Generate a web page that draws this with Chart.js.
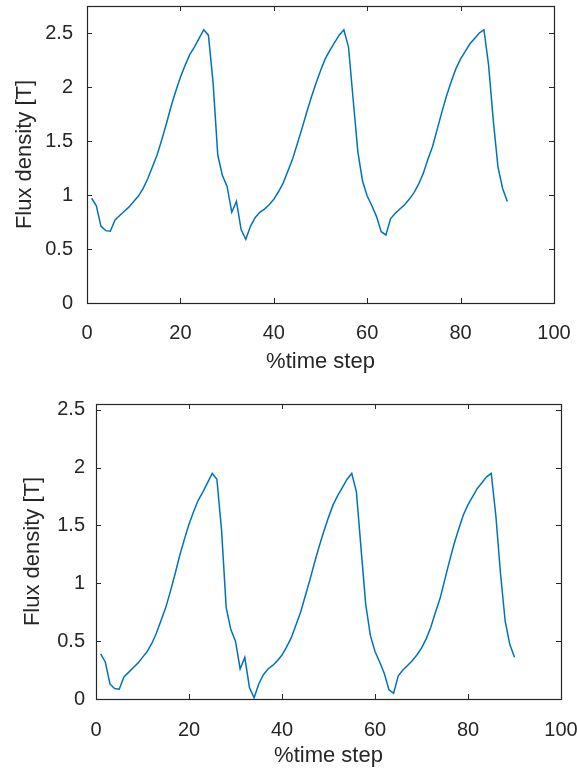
<!DOCTYPE html>
<html>
<head>
<meta charset="utf-8">
<script src="https://cdn.jsdelivr.net/npm/chart.js@4/dist/chart.umd.min.js"></script>
<style>
  html, body { margin: 0; padding: 0; background: #fff; }
  #wrap { position: relative; width: 577px; height: 771px; }
  canvas { position: absolute; left: 0; }
</style>
</head>
<body>
<div id="wrap">
  <canvas id="c1" width="577" height="385" style="top:0px"></canvas>
  <canvas id="c2" width="577" height="386" style="top:385px"></canvas>
</div>
<script>
// ---- data ----
const timeSteps = [];
for (let i = 1; i <= 90; i++) timeSteps.push(i);

const fluxTop = [
  0.97, 0.90, 0.71, 0.67, 0.665, 0.77, 0.81, 0.85, 0.89, 0.94,
  0.99, 1.06, 1.15, 1.26, 1.37, 1.51, 1.66, 1.82, 1.96, 2.09,
  2.20, 2.30, 2.37, 2.45, 2.53, 2.48, 2.04, 1.37, 1.18, 1.08,
  0.84, 0.94, 0.68, 0.59, 0.71, 0.79, 0.84, 0.87, 0.91, 0.96,
  1.03, 1.11, 1.22, 1.33, 1.47, 1.61, 1.76, 1.90, 2.03, 2.15,
  2.26, 2.34, 2.41, 2.48, 2.53, 2.37, 1.88, 1.40, 1.13, 0.99,
  0.90, 0.80, 0.66, 0.63, 0.78, 0.83, 0.87, 0.91, 0.96, 1.02,
  1.10, 1.20, 1.33, 1.45, 1.61, 1.77, 1.92, 2.05, 2.17, 2.26,
  2.33, 2.40, 2.45, 2.50, 2.53, 2.20, 1.69, 1.26, 1.06, 0.94
];

const fluxBottom = [
  0.39, 0.32, 0.13, 0.09, 0.085, 0.19, 0.23, 0.27, 0.31, 0.36,
  0.41, 0.48, 0.57, 0.68, 0.79, 0.93, 1.08, 1.24, 1.38, 1.51,
  1.62, 1.72, 1.79, 1.87, 1.95, 1.90, 1.46, 0.79, 0.60, 0.50,
  0.26, 0.36, 0.10, 0.01, 0.13, 0.21, 0.26, 0.29, 0.33, 0.38,
  0.45, 0.53, 0.64, 0.75, 0.89, 1.03, 1.18, 1.32, 1.45, 1.57,
  1.68, 1.76, 1.83, 1.90, 1.95, 1.79, 1.30, 0.82, 0.55, 0.41,
  0.32, 0.22, 0.08, 0.05, 0.20, 0.25, 0.29, 0.33, 0.38, 0.44,
  0.52, 0.62, 0.75, 0.87, 1.03, 1.19, 1.34, 1.47, 1.59, 1.68,
  1.75, 1.82, 1.87, 1.92, 1.95, 1.58, 1.08, 0.67, 0.47, 0.36
];

const xTicks = [0, 20, 40, 60, 80, 100];
const xTickLabels = ['0', '20', '40', '60', '80', '100'];
const yTicks = [0, 0.5, 1, 1.5, 2, 2.5];
const yTickLabels = ['0', '0.5', '1', '1.5', '2', '2.5'];
const xTitle = '%time step';
const yTitle = 'Flux density [T]';

// ---- styling ----
const AX = '#262626';
const LINE = '#0072BD';
const FONT = '"Liberation Sans", Arial, sans-serif';

const boxPlugin = {
  id: 'matlabBox',
  afterDatasetsDraw(chart) {
    const {ctx, chartArea: a, scales} = chart;
    ctx.save();
    ctx.strokeStyle = AX;
    ctx.lineWidth = 1;
    const tl = 5;
    ctx.beginPath();
    scales.x.ticks.forEach(t => {
      const px = Math.round(scales.x.getPixelForValue(t.value)) + 0.5;
      ctx.moveTo(px, a.bottom); ctx.lineTo(px, a.bottom - tl);
      ctx.moveTo(px, a.top); ctx.lineTo(px, a.top + tl);
    });
    scales.y.ticks.forEach(t => {
      const py = Math.round(scales.y.getPixelForValue(t.value)) + 0.5;
      ctx.moveTo(a.left, py); ctx.lineTo(a.left + tl, py);
      ctx.moveTo(a.right, py); ctx.lineTo(a.right - tl, py);
    });
    ctx.stroke();
    ctx.lineWidth = 1.2;
    ctx.strokeRect(Math.round(a.left) + 0.5, Math.round(a.top) + 0.5,
                   Math.round(a.right - a.left), Math.round(a.bottom - a.top));
    ctx.restore();
  }
};

function makeChart(id, values, cfg) {
  const points = timeSteps.map((x, i) => ({x: x, y: values[i]}));
  return new Chart(document.getElementById(id), {
    type: 'line',
    data: {
      datasets: [{
        data: points,
        borderColor: LINE,
        borderWidth: 1.5,
        pointRadius: 0,
        tension: 0,
        fill: false
      }]
    },
    options: {
      responsive: false,
      animation: false,
      devicePixelRatio: 1,
      layout: { padding: { left: 0, top: cfg.top, right: cfg.right, bottom: 0 } },
      plugins: { legend: { display: false }, tooltip: { enabled: false } },
      scales: {
        x: {
          type: 'linear',
          min: 0, max: 100,
          grid: { display: false, drawTicks: false },
          border: { display: false },
          afterBuildTicks: s => { s.ticks = xTicks.map(v => ({value: v})); },
          afterFit: s => { s.height = cfg.xh; s.paddingLeft = 0; s.paddingRight = 0; },
          ticks: {
            color: AX,
            padding: cfg.xpad,
            maxRotation: 0,
            font: { family: FONT, size: 20 },
            callback: (v) => xTickLabels[xTicks.indexOf(v)]
          },
          title: {
            display: true, text: xTitle, color: AX,
            font: { family: FONT, size: 22 },
            padding: { top: 0, bottom: cfg.xtpad }
          }
        },
        y: {
          type: 'linear',
          min: 0, max: cfg.ymax,
          grid: { display: false, drawTicks: false },
          border: { display: false },
          afterBuildTicks: s => { s.ticks = yTicks.map(v => ({value: v})); },
          afterFit: s => { s.width = cfg.yw; s.paddingTop = 0; s.paddingBottom = 0; },
          ticks: {
            color: AX,
            padding: cfg.ypad,
            font: { family: FONT, size: 20 },
            callback: (v) => yTickLabels[yTicks.indexOf(v)]
          },
          title: {
            display: true, text: yTitle, color: AX,
            font: { family: FONT, size: 22 },
            padding: { top: cfg.ytpad, bottom: 0 }
          }
        }
      }
    },
    plugins: [boxPlugin]
  });
}

makeChart('c1', fluxTop, {
  top: 6, right: 23, xh: 82, yw: 87, ymax: 2.75,
  xpad: 18, xtpad: 10, ypad: 14, ytpad: 12
});
makeChart('c2', fluxBottom, {
  top: 19, right: 16, xh: 72, yw: 96, ymax: 2.55,
  xpad: 19, xtpad: 2, ypad: 11, ytpad: 20
});
</script>
</body>
</html>
